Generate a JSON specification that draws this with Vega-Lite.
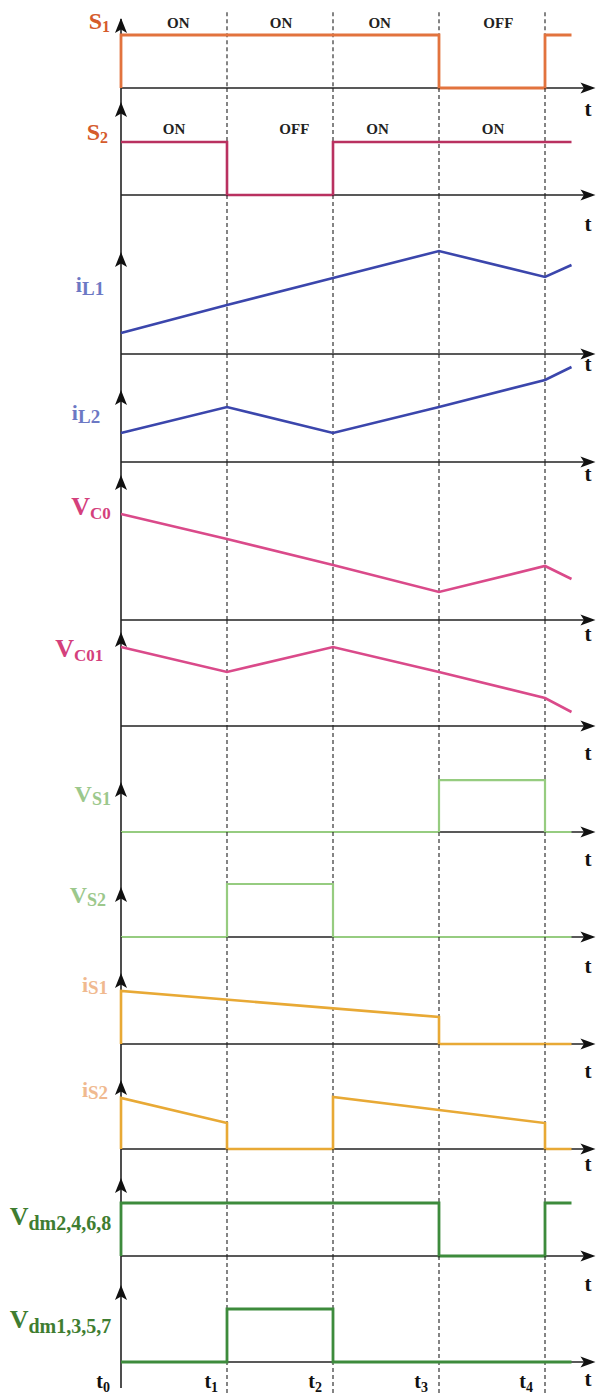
{
"$schema":"https://vega.github.io/schema/vega-lite/v6.json",
"padding":0,
"spacing":0,
"bounds":"flush",
"background":"white",
"config":{"view":{"stroke":null},"font":"Liberation Serif"},
"datasets":{
"sig":[
{"p":"S1","k":1,"t":0,"v":0},{"p":"S1","k":2,"t":0,"v":1},{"p":"S1","k":3,"t":3,"v":1},{"p":"S1","k":4,"t":3,"v":0},{"p":"S1","k":5,"t":4,"v":0},{"p":"S1","k":6,"t":4,"v":1},{"p":"S1","k":7,"t":4.25,"v":1},
{"p":"S2","k":1,"t":0,"v":1},{"p":"S2","k":2,"t":1,"v":1},{"p":"S2","k":3,"t":1,"v":0},{"p":"S2","k":4,"t":2,"v":0},{"p":"S2","k":5,"t":2,"v":1},{"p":"S2","k":6,"t":4.25,"v":1},
{"p":"iL1","k":1,"t":0,"v":0.396},{"p":"iL1","k":2,"t":1,"v":0.925},{"p":"iL1","k":3,"t":2,"v":1.434},{"p":"iL1","k":4,"t":3,"v":1.943},{"p":"iL1","k":5,"t":4,"v":1.453},{"p":"iL1","k":6,"t":4.25,"v":1.679},
{"p":"iL2","k":1,"t":0,"v":0.547},{"p":"iL2","k":2,"t":1,"v":1.038},{"p":"iL2","k":3,"t":2,"v":0.547},{"p":"iL2","k":4,"t":3,"v":1.038},{"p":"iL2","k":5,"t":4,"v":1.547},{"p":"iL2","k":6,"t":4.25,"v":1.792},
{"p":"VC0","k":1,"t":0,"v":2.0},{"p":"VC0","k":2,"t":1,"v":1.528},{"p":"VC0","k":3,"t":2,"v":1.038},{"p":"VC0","k":4,"t":3,"v":0.528},{"p":"VC0","k":5,"t":4,"v":1.019},{"p":"VC0","k":6,"t":4.25,"v":0.774},
{"p":"VC01","k":1,"t":0,"v":1.49},{"p":"VC01","k":2,"t":1,"v":1.019},{"p":"VC01","k":3,"t":2,"v":1.49},{"p":"VC01","k":4,"t":3,"v":1.019},{"p":"VC01","k":5,"t":4,"v":0.528},{"p":"VC01","k":6,"t":4.25,"v":0.264},
{"p":"VS1","k":1,"t":0,"v":0},{"p":"VS1","k":2,"t":3,"v":0},{"p":"VS1","k":3,"t":3,"v":0.98},{"p":"VS1","k":4,"t":4,"v":0.98},{"p":"VS1","k":5,"t":4,"v":0},{"p":"VS1","k":6,"t":4.25,"v":0},
{"p":"VS2","k":1,"t":0,"v":0},{"p":"VS2","k":2,"t":1,"v":0},{"p":"VS2","k":3,"t":1,"v":1},{"p":"VS2","k":4,"t":2,"v":1},{"p":"VS2","k":5,"t":2,"v":0},{"p":"VS2","k":6,"t":4.25,"v":0},
{"p":"iS1","k":1,"t":0,"v":0},{"p":"iS1","k":2,"t":0,"v":1.0},{"p":"iS1","k":3,"t":3,"v":0.509},{"p":"iS1","k":4,"t":3,"v":0},{"p":"iS1","k":5,"t":4.25,"v":0},
{"p":"iS2","k":1,"t":0,"v":0},{"p":"iS2","k":2,"t":0,"v":0.962},{"p":"iS2","k":3,"t":1,"v":0.49},{"p":"iS2","k":4,"t":1,"v":0},{"p":"iS2","k":5,"t":2,"v":0},{"p":"iS2","k":6,"t":2,"v":0.98},{"p":"iS2","k":7,"t":3,"v":0.736},{"p":"iS2","k":8,"t":4,"v":0.49},{"p":"iS2","k":9,"t":4,"v":0},{"p":"iS2","k":10,"t":4.25,"v":0},
{"p":"Vd2","k":1,"t":0,"v":0},{"p":"Vd2","k":2,"t":0,"v":1},{"p":"Vd2","k":3,"t":3,"v":1},{"p":"Vd2","k":4,"t":3,"v":0},{"p":"Vd2","k":5,"t":4,"v":0},{"p":"Vd2","k":6,"t":4,"v":1},{"p":"Vd2","k":7,"t":4.25,"v":1},
{"p":"Vd1","k":1,"t":0,"v":0},{"p":"Vd1","k":2,"t":1,"v":0},{"p":"Vd1","k":3,"t":1,"v":1},{"p":"Vd1","k":4,"t":2,"v":1},{"p":"Vd1","k":5,"t":2,"v":0},{"p":"Vd1","k":6,"t":4.25,"v":0}
],
"lab":[
{"p":"S1","t":-0.179,"v":1.113,"m":"S","s":"1"},
{"p":"S2","t":-0.198,"v":1.038,"m":"S","s":"2"},
{"p":"iL1","t":-0.368,"v":1.17,"m":"i","s":"L1"},
{"p":"iL2","t":-0.406,"v":0.792,"m":"i","s":"L2"},
{"p":"VC0","t":-0.292,"v":1.981,"m":"V","s":"C0"},
{"p":"VC01","t":-0.443,"v":1.302,"m":"V","s":"C01"},
{"p":"VS1","t":-0.274,"v":0.566,"m":"V","s":"S1"},
{"p":"VS2","t":-0.321,"v":0.642,"m":"V","s":"S2"},
{"p":"iS1","t":-0.311,"v":0.981,"m":"i","s":"S1"},
{"p":"iS2","t":-0.311,"v":0.981,"m":"i","s":"S2"},
{"p":"Vd2","t":-0.873,"v":0.585,"m":"V","s":"dm2,4,6,8"},
{"p":"Vd1","t":-0.873,"v":0.642,"m":"V","s":"dm1,3,5,7"}
],
"tl":[
{"p":"S1","t":4.406,"v":-0.415,"s":"t"},
{"p":"S2","t":4.406,"v":-0.566,"s":"t"},
{"p":"iL1","t":4.406,"v":-0.208,"s":"t"},
{"p":"iL2","t":4.406,"v":-0.245,"s":"t"},
{"p":"VC0","t":4.406,"v":-0.283,"s":"t"},
{"p":"VC01","t":4.406,"v":-0.528,"s":"t"},
{"p":"VS1","t":4.406,"v":-0.528,"s":"t"},
{"p":"VS2","t":4.406,"v":-0.566,"s":"t"},
{"p":"iS1","t":4.406,"v":-0.528,"s":"t"},
{"p":"iS2","t":4.406,"v":-0.302,"s":"t"},
{"p":"Vd2","t":4.406,"v":-0.547,"s":"t"},
{"p":"Vd1","t":4.406,"v":-0.34,"s":"t"}
],
"oo":[
{"p":"S1","t":0.54,"v":1.226,"txt":"ON"},{"p":"S1","t":1.51,"v":1.226,"txt":"ON"},{"p":"S1","t":2.44,"v":1.226,"txt":"ON"},{"p":"S1","t":3.56,"v":1.226,"txt":"OFF"},
{"p":"S2","t":0.5,"v":1.245,"txt":"ON"},{"p":"S2","t":1.635,"v":1.245,"txt":"OFF"},{"p":"S2","t":2.42,"v":1.245,"txt":"ON"},{"p":"S2","t":3.51,"v":1.245,"txt":"ON"}
],
"tk":[
{"t":-0.17,"v":-0.49,"m":"t","s":"0"},{"t":0.85,"v":-0.49,"m":"t","s":"1"},{"t":1.83,"v":-0.49,"m":"t","s":"2"},{"t":2.83,"v":-0.49,"m":"t","s":"3"},{"t":3.82,"v":-0.49,"m":"t","s":"4"}
]
},
"vconcat":[
{"width":596,"height":88,
"encoding":{"x":{"field":"t","type":"quantitative","axis":null,"scale":{"domain":[-1.1415,4.4811],"nice":false,"zero":false}},"y":{"field":"v","type":"quantitative","axis":null,"scale":{"domain":[0,1.6604],"nice":false,"zero":false}}},
"layer":[
{"data":{"values":[{"t":1,"v":1.43,"v2":0},{"t":2,"v":1.43,"v2":0},{"t":3,"v":1.43,"v2":0},{"t":4,"v":1.43,"v2":0}]},"mark":{"type":"rule","color":"#222","strokeWidth":1.1,"strokeDash":[4,3]},"encoding":{"y2":{"field":"v2"}}},
{"data":{"values":[{"t":0,"v":1.3,"v2":0}]},"mark":{"type":"rule","color":"#222","strokeWidth":1.6},"encoding":{"y2":{"field":"v2"}}},
{"data":{"values":[{"t":0,"v":0,"t2":4.45}]},"mark":{"type":"rule","color":"#222","strokeWidth":1.6},"encoding":{"x2":{"field":"t2"}}},
{"data":{"name":"sig"},"transform":[{"filter":"datum.p=='S1'"}],"mark":{"type":"line","color":"#E2733E","strokeWidth":2.8},"encoding":{"order":{"field":"k"}}},
{"data":{"values":[{"t":0,"v":1.321}]},"mark":{"type":"point","shape":"M 0 0 L 1.2 3 L 0 2.3 L -1.2 3 Z","filled":true,"opacity":1,"size":100,"color":"#111","strokeWidth":0}},
{"data":{"values":[{"t":4.476,"v":0}]},"mark":{"type":"point","shape":"M 0 0 L -3 -1.1 L -2.3 0 L -3 1.1 Z","filled":true,"opacity":1,"size":100,"color":"#111","strokeWidth":0}},
{"data":{"name":"lab"},"transform":[{"filter":"datum.p=='S1'"}],"mark":{"type":"text","align":"right","baseline":"alphabetic","fontWeight":"bold","fontSize":24,"color":"#D55B2B"},"encoding":{"text":{"field":"m"}}},
{"data":{"name":"lab"},"transform":[{"filter":"datum.p=='S1'"}],"mark":{"type":"text","align":"left","baseline":"alphabetic","dy":3,"fontWeight":"bold","fontSize":16,"color":"#D55B2B"},"encoding":{"text":{"field":"s"}}},
{"data":{"name":"oo"},"transform":[{"filter":"datum.p=='S1'"}],"mark":{"type":"text","align":"center","baseline":"middle","fontWeight":"bold","fontSize":15,"color":"#222"},"encoding":{"text":{"field":"txt"}}},
{"data":{"name":"tl"},"transform":[{"filter":"datum.p=='S1'"}],"mark":{"type":"text","align":"center","baseline":"middle","fontWeight":"bold","fontSize":21,"color":"#111"},"encoding":{"text":{"field":"s"}}}
]},
{"width":596,"height":107,
"encoding":{"x":{"field":"t","type":"quantitative","axis":null,"scale":{"domain":[-1.1415,4.4811],"nice":false,"zero":false}},"y":{"field":"v","type":"quantitative","axis":null,"scale":{"domain":[0,2.0189],"nice":false,"zero":false}}},
"layer":[
{"data":{"values":[{"t":1,"v":2.0189,"v2":0},{"t":2,"v":2.0189,"v2":0},{"t":3,"v":2.0189,"v2":0},{"t":4,"v":2.0189,"v2":0}]},"mark":{"type":"rule","color":"#222","strokeWidth":1.1,"strokeDash":[4,3]},"encoding":{"y2":{"field":"v2"}}},
{"data":{"values":[{"t":0,"v":2.0189,"v2":0}]},"mark":{"type":"rule","color":"#222","strokeWidth":1.6},"encoding":{"y2":{"field":"v2"}}},
{"data":{"values":[{"t":0,"v":0,"t2":4.45}]},"mark":{"type":"rule","color":"#222","strokeWidth":1.6},"encoding":{"x2":{"field":"t2"}}},
{"data":{"name":"sig"},"transform":[{"filter":"datum.p=='S2'"}],"mark":{"type":"line","color":"#B93160","strokeWidth":2.6},"encoding":{"order":{"field":"k"}}},
{"data":{"values":[{"t":0,"v":1.755}]},"mark":{"type":"point","shape":"M 0 0 L 1.2 3 L 0 2.3 L -1.2 3 Z","filled":true,"opacity":1,"size":100,"color":"#111","strokeWidth":0}},
{"data":{"values":[{"t":4.476,"v":0}]},"mark":{"type":"point","shape":"M 0 0 L -3 -1.1 L -2.3 0 L -3 1.1 Z","filled":true,"opacity":1,"size":100,"color":"#111","strokeWidth":0}},
{"data":{"name":"lab"},"transform":[{"filter":"datum.p=='S2'"}],"mark":{"type":"text","align":"right","baseline":"alphabetic","fontWeight":"bold","fontSize":24,"color":"#D55B2B"},"encoding":{"text":{"field":"m"}}},
{"data":{"name":"lab"},"transform":[{"filter":"datum.p=='S2'"}],"mark":{"type":"text","align":"left","baseline":"alphabetic","dy":3,"fontWeight":"bold","fontSize":16,"color":"#D55B2B"},"encoding":{"text":{"field":"s"}}},
{"data":{"name":"oo"},"transform":[{"filter":"datum.p=='S2'"}],"mark":{"type":"text","align":"center","baseline":"middle","fontWeight":"bold","fontSize":15,"color":"#222"},"encoding":{"text":{"field":"txt"}}},
{"data":{"name":"tl"},"transform":[{"filter":"datum.p=='S2'"}],"mark":{"type":"text","align":"center","baseline":"middle","fontWeight":"bold","fontSize":21,"color":"#111"},"encoding":{"text":{"field":"s"}}}
]},
{"width":596,"height":159,
"encoding":{"x":{"field":"t","type":"quantitative","axis":null,"scale":{"domain":[-1.1415,4.4811],"nice":false,"zero":false}},"y":{"field":"v","type":"quantitative","axis":null,"scale":{"domain":[0,3.0],"nice":false,"zero":false}}},
"layer":[
{"data":{"values":[{"t":1,"v":3.0,"v2":0},{"t":2,"v":3.0,"v2":0},{"t":3,"v":3.0,"v2":0},{"t":4,"v":3.0,"v2":0}]},"mark":{"type":"rule","color":"#222","strokeWidth":1.1,"strokeDash":[4,3]},"encoding":{"y2":{"field":"v2"}}},
{"data":{"values":[{"t":0,"v":3.0,"v2":0}]},"mark":{"type":"rule","color":"#222","strokeWidth":1.6},"encoding":{"y2":{"field":"v2"}}},
{"data":{"values":[{"t":0,"v":0,"t2":4.45}]},"mark":{"type":"rule","color":"#222","strokeWidth":1.6},"encoding":{"x2":{"field":"t2"}}},
{"data":{"name":"sig"},"transform":[{"filter":"datum.p=='iL1'"}],"mark":{"type":"line","color":"#3B46AC","strokeWidth":2.6},"encoding":{"order":{"field":"k"}}},
{"data":{"values":[{"t":0,"v":1.925}]},"mark":{"type":"point","shape":"M 0 0 L 1.2 3 L 0 2.3 L -1.2 3 Z","filled":true,"opacity":1,"size":100,"color":"#111","strokeWidth":0}},
{"data":{"values":[{"t":4.476,"v":0}]},"mark":{"type":"point","shape":"M 0 0 L -3 -1.1 L -2.3 0 L -3 1.1 Z","filled":true,"opacity":1,"size":100,"color":"#111","strokeWidth":0}},
{"data":{"name":"lab"},"transform":[{"filter":"datum.p=='iL1'"}],"mark":{"type":"text","align":"right","baseline":"alphabetic","fontWeight":"bold","fontSize":22,"color":"#6C78C4"},"encoding":{"text":{"field":"m"}}},
{"data":{"name":"lab"},"transform":[{"filter":"datum.p=='iL1'"}],"mark":{"type":"text","align":"left","baseline":"alphabetic","dy":3,"fontWeight":"bold","fontSize":19,"color":"#6C78C4"},"encoding":{"text":{"field":"s"}}},
{"data":{"name":"tl"},"transform":[{"filter":"datum.p=='iL1'"}],"mark":{"type":"text","align":"center","baseline":"middle","fontWeight":"bold","fontSize":21,"color":"#111"},"encoding":{"text":{"field":"s"}}}
]},
{"width":596,"height":108,
"encoding":{"x":{"field":"t","type":"quantitative","axis":null,"scale":{"domain":[-1.1415,4.4811],"nice":false,"zero":false}},"y":{"field":"v","type":"quantitative","axis":null,"scale":{"domain":[0,2.0377],"nice":false,"zero":false}}},
"layer":[
{"data":{"values":[{"t":1,"v":2.0377,"v2":0},{"t":2,"v":2.0377,"v2":0},{"t":3,"v":2.0377,"v2":0},{"t":4,"v":2.0377,"v2":0}]},"mark":{"type":"rule","color":"#222","strokeWidth":1.1,"strokeDash":[4,3]},"encoding":{"y2":{"field":"v2"}}},
{"data":{"values":[{"t":0,"v":2.0377,"v2":0}]},"mark":{"type":"rule","color":"#222","strokeWidth":1.6},"encoding":{"y2":{"field":"v2"}}},
{"data":{"values":[{"t":0,"v":0,"t2":4.45}]},"mark":{"type":"rule","color":"#222","strokeWidth":1.6},"encoding":{"x2":{"field":"t2"}}},
{"data":{"name":"sig"},"transform":[{"filter":"datum.p=='iL2'"}],"mark":{"type":"line","color":"#3B46AC","strokeWidth":2.6},"encoding":{"order":{"field":"k"}}},
{"data":{"values":[{"t":0,"v":1.358}]},"mark":{"type":"point","shape":"M 0 0 L 1.2 3 L 0 2.3 L -1.2 3 Z","filled":true,"opacity":1,"size":100,"color":"#111","strokeWidth":0}},
{"data":{"values":[{"t":4.476,"v":0}]},"mark":{"type":"point","shape":"M 0 0 L -3 -1.1 L -2.3 0 L -3 1.1 Z","filled":true,"opacity":1,"size":100,"color":"#111","strokeWidth":0}},
{"data":{"name":"lab"},"transform":[{"filter":"datum.p=='iL2'"}],"mark":{"type":"text","align":"right","baseline":"alphabetic","fontWeight":"bold","fontSize":22,"color":"#6C78C4"},"encoding":{"text":{"field":"m"}}},
{"data":{"name":"lab"},"transform":[{"filter":"datum.p=='iL2'"}],"mark":{"type":"text","align":"left","baseline":"alphabetic","dy":3,"fontWeight":"bold","fontSize":19,"color":"#6C78C4"},"encoding":{"text":{"field":"s"}}},
{"data":{"name":"tl"},"transform":[{"filter":"datum.p=='iL2'"}],"mark":{"type":"text","align":"center","baseline":"middle","fontWeight":"bold","fontSize":21,"color":"#111"},"encoding":{"text":{"field":"s"}}}
]},
{"width":596,"height":158,
"encoding":{"x":{"field":"t","type":"quantitative","axis":null,"scale":{"domain":[-1.1415,4.4811],"nice":false,"zero":false}},"y":{"field":"v","type":"quantitative","axis":null,"scale":{"domain":[0,2.9811],"nice":false,"zero":false}}},
"layer":[
{"data":{"values":[{"t":1,"v":2.9811,"v2":0},{"t":2,"v":2.9811,"v2":0},{"t":3,"v":2.9811,"v2":0},{"t":4,"v":2.9811,"v2":0}]},"mark":{"type":"rule","color":"#222","strokeWidth":1.1,"strokeDash":[4,3]},"encoding":{"y2":{"field":"v2"}}},
{"data":{"values":[{"t":0,"v":2.9811,"v2":0}]},"mark":{"type":"rule","color":"#222","strokeWidth":1.6},"encoding":{"y2":{"field":"v2"}}},
{"data":{"values":[{"t":0,"v":0,"t2":4.45}]},"mark":{"type":"rule","color":"#222","strokeWidth":1.6},"encoding":{"x2":{"field":"t2"}}},
{"data":{"name":"sig"},"transform":[{"filter":"datum.p=='VC0'"}],"mark":{"type":"line","color":"#DA4A8A","strokeWidth":2.6},"encoding":{"order":{"field":"k"}}},
{"data":{"values":[{"t":0,"v":2.736}]},"mark":{"type":"point","shape":"M 0 0 L 1.2 3 L 0 2.3 L -1.2 3 Z","filled":true,"opacity":1,"size":100,"color":"#111","strokeWidth":0}},
{"data":{"values":[{"t":4.476,"v":0}]},"mark":{"type":"point","shape":"M 0 0 L -3 -1.1 L -2.3 0 L -3 1.1 Z","filled":true,"opacity":1,"size":100,"color":"#111","strokeWidth":0}},
{"data":{"name":"lab"},"transform":[{"filter":"datum.p=='VC0'"}],"mark":{"type":"text","align":"right","baseline":"alphabetic","fontWeight":"bold","fontSize":26,"color":"#D4407C"},"encoding":{"text":{"field":"m"}}},
{"data":{"name":"lab"},"transform":[{"filter":"datum.p=='VC0'"}],"mark":{"type":"text","align":"left","baseline":"alphabetic","dy":4,"fontWeight":"bold","fontSize":17,"color":"#D4407C"},"encoding":{"text":{"field":"s"}}},
{"data":{"name":"tl"},"transform":[{"filter":"datum.p=='VC0'"}],"mark":{"type":"text","align":"center","baseline":"middle","fontWeight":"bold","fontSize":21,"color":"#111"},"encoding":{"text":{"field":"s"}}}
]},
{"width":596,"height":106,
"encoding":{"x":{"field":"t","type":"quantitative","axis":null,"scale":{"domain":[-1.1415,4.4811],"nice":false,"zero":false}},"y":{"field":"v","type":"quantitative","axis":null,"scale":{"domain":[0,2.0],"nice":false,"zero":false}}},
"layer":[
{"data":{"values":[{"t":1,"v":2.0,"v2":0},{"t":2,"v":2.0,"v2":0},{"t":3,"v":2.0,"v2":0},{"t":4,"v":2.0,"v2":0}]},"mark":{"type":"rule","color":"#222","strokeWidth":1.1,"strokeDash":[4,3]},"encoding":{"y2":{"field":"v2"}}},
{"data":{"values":[{"t":0,"v":2.0,"v2":0}]},"mark":{"type":"rule","color":"#222","strokeWidth":1.6},"encoding":{"y2":{"field":"v2"}}},
{"data":{"values":[{"t":0,"v":0,"t2":4.45}]},"mark":{"type":"rule","color":"#222","strokeWidth":1.6},"encoding":{"x2":{"field":"t2"}}},
{"data":{"name":"sig"},"transform":[{"filter":"datum.p=='VC01'"}],"mark":{"type":"line","color":"#DA4A8A","strokeWidth":2.6},"encoding":{"order":{"field":"k"}}},
{"data":{"values":[{"t":0,"v":1.774}]},"mark":{"type":"point","shape":"M 0 0 L 1.2 3 L 0 2.3 L -1.2 3 Z","filled":true,"opacity":1,"size":100,"color":"#111","strokeWidth":0}},
{"data":{"values":[{"t":4.476,"v":0}]},"mark":{"type":"point","shape":"M 0 0 L -3 -1.1 L -2.3 0 L -3 1.1 Z","filled":true,"opacity":1,"size":100,"color":"#111","strokeWidth":0}},
{"data":{"name":"lab"},"transform":[{"filter":"datum.p=='VC01'"}],"mark":{"type":"text","align":"right","baseline":"alphabetic","fontWeight":"bold","fontSize":26,"color":"#D4407C"},"encoding":{"text":{"field":"m"}}},
{"data":{"name":"lab"},"transform":[{"filter":"datum.p=='VC01'"}],"mark":{"type":"text","align":"left","baseline":"alphabetic","dy":4,"fontWeight":"bold","fontSize":17,"color":"#D4407C"},"encoding":{"text":{"field":"s"}}},
{"data":{"name":"tl"},"transform":[{"filter":"datum.p=='VC01'"}],"mark":{"type":"text","align":"center","baseline":"middle","fontWeight":"bold","fontSize":21,"color":"#111"},"encoding":{"text":{"field":"s"}}}
]},
{"width":596,"height":106,
"encoding":{"x":{"field":"t","type":"quantitative","axis":null,"scale":{"domain":[-1.1415,4.4811],"nice":false,"zero":false}},"y":{"field":"v","type":"quantitative","axis":null,"scale":{"domain":[0,2.0],"nice":false,"zero":false}}},
"layer":[
{"data":{"values":[{"t":1,"v":2.0,"v2":0},{"t":2,"v":2.0,"v2":0},{"t":3,"v":2.0,"v2":0},{"t":4,"v":2.0,"v2":0}]},"mark":{"type":"rule","color":"#222","strokeWidth":1.1,"strokeDash":[4,3]},"encoding":{"y2":{"field":"v2"}}},
{"data":{"values":[{"t":0,"v":2.0,"v2":0}]},"mark":{"type":"rule","color":"#222","strokeWidth":1.6},"encoding":{"y2":{"field":"v2"}}},
{"data":{"values":[{"t":0,"v":0,"t2":4.45}]},"mark":{"type":"rule","color":"#222","strokeWidth":1.6},"encoding":{"x2":{"field":"t2"}}},
{"data":{"name":"sig"},"transform":[{"filter":"datum.p=='VS1'"}],"mark":{"type":"line","color":"#96CC80","strokeWidth":2.2},"encoding":{"order":{"field":"k"}}},
{"data":{"values":[{"t":0,"v":0.943}]},"mark":{"type":"point","shape":"M 0 0 L 1.2 3 L 0 2.3 L -1.2 3 Z","filled":true,"opacity":1,"size":100,"color":"#111","strokeWidth":0}},
{"data":{"values":[{"t":4.476,"v":0}]},"mark":{"type":"point","shape":"M 0 0 L -3 -1.1 L -2.3 0 L -3 1.1 Z","filled":true,"opacity":1,"size":100,"color":"#111","strokeWidth":0}},
{"data":{"name":"lab"},"transform":[{"filter":"datum.p=='VS1'"}],"mark":{"type":"text","align":"right","baseline":"alphabetic","fontWeight":"bold","fontSize":24,"color":"#9CC88C"},"encoding":{"text":{"field":"m"}}},
{"data":{"name":"lab"},"transform":[{"filter":"datum.p=='VS1'"}],"mark":{"type":"text","align":"left","baseline":"alphabetic","dy":3,"fontWeight":"bold","fontSize":18,"color":"#9CC88C"},"encoding":{"text":{"field":"s"}}},
{"data":{"name":"tl"},"transform":[{"filter":"datum.p=='VS1'"}],"mark":{"type":"text","align":"center","baseline":"middle","fontWeight":"bold","fontSize":21,"color":"#111"},"encoding":{"text":{"field":"s"}}}
]},
{"width":596,"height":105,
"encoding":{"x":{"field":"t","type":"quantitative","axis":null,"scale":{"domain":[-1.1415,4.4811],"nice":false,"zero":false}},"y":{"field":"v","type":"quantitative","axis":null,"scale":{"domain":[0,1.9811],"nice":false,"zero":false}}},
"layer":[
{"data":{"values":[{"t":1,"v":1.9811,"v2":0},{"t":2,"v":1.9811,"v2":0},{"t":3,"v":1.9811,"v2":0},{"t":4,"v":1.9811,"v2":0}]},"mark":{"type":"rule","color":"#222","strokeWidth":1.1,"strokeDash":[4,3]},"encoding":{"y2":{"field":"v2"}}},
{"data":{"values":[{"t":0,"v":1.9811,"v2":0}]},"mark":{"type":"rule","color":"#222","strokeWidth":1.6},"encoding":{"y2":{"field":"v2"}}},
{"data":{"values":[{"t":0,"v":0,"t2":4.45}]},"mark":{"type":"rule","color":"#222","strokeWidth":1.6},"encoding":{"x2":{"field":"t2"}}},
{"data":{"name":"sig"},"transform":[{"filter":"datum.p=='VS2'"}],"mark":{"type":"line","color":"#96CC80","strokeWidth":2.2},"encoding":{"order":{"field":"k"}}},
{"data":{"values":[{"t":0,"v":0.943}]},"mark":{"type":"point","shape":"M 0 0 L 1.2 3 L 0 2.3 L -1.2 3 Z","filled":true,"opacity":1,"size":100,"color":"#111","strokeWidth":0}},
{"data":{"values":[{"t":4.476,"v":0}]},"mark":{"type":"point","shape":"M 0 0 L -3 -1.1 L -2.3 0 L -3 1.1 Z","filled":true,"opacity":1,"size":100,"color":"#111","strokeWidth":0}},
{"data":{"name":"lab"},"transform":[{"filter":"datum.p=='VS2'"}],"mark":{"type":"text","align":"right","baseline":"alphabetic","fontWeight":"bold","fontSize":24,"color":"#9CC88C"},"encoding":{"text":{"field":"m"}}},
{"data":{"name":"lab"},"transform":[{"filter":"datum.p=='VS2'"}],"mark":{"type":"text","align":"left","baseline":"alphabetic","dy":3,"fontWeight":"bold","fontSize":18,"color":"#9CC88C"},"encoding":{"text":{"field":"s"}}},
{"data":{"name":"tl"},"transform":[{"filter":"datum.p=='VS2'"}],"mark":{"type":"text","align":"center","baseline":"middle","fontWeight":"bold","fontSize":21,"color":"#111"},"encoding":{"text":{"field":"s"}}}
]},
{"width":596,"height":107,
"encoding":{"x":{"field":"t","type":"quantitative","axis":null,"scale":{"domain":[-1.1415,4.4811],"nice":false,"zero":false}},"y":{"field":"v","type":"quantitative","axis":null,"scale":{"domain":[0,2.0189],"nice":false,"zero":false}}},
"layer":[
{"data":{"values":[{"t":1,"v":2.0189,"v2":0},{"t":2,"v":2.0189,"v2":0},{"t":3,"v":2.0189,"v2":0},{"t":4,"v":2.0189,"v2":0}]},"mark":{"type":"rule","color":"#222","strokeWidth":1.1,"strokeDash":[4,3]},"encoding":{"y2":{"field":"v2"}}},
{"data":{"values":[{"t":0,"v":2.0189,"v2":0}]},"mark":{"type":"rule","color":"#222","strokeWidth":1.6},"encoding":{"y2":{"field":"v2"}}},
{"data":{"values":[{"t":0,"v":0,"t2":4.45}]},"mark":{"type":"rule","color":"#222","strokeWidth":1.6},"encoding":{"x2":{"field":"t2"}}},
{"data":{"name":"sig"},"transform":[{"filter":"datum.p=='iS1'"}],"mark":{"type":"line","color":"#E8A935","strokeWidth":2.6},"encoding":{"order":{"field":"k"}}},
{"data":{"values":[{"t":0,"v":1.34}]},"mark":{"type":"point","shape":"M 0 0 L 1.2 3 L 0 2.3 L -1.2 3 Z","filled":true,"opacity":1,"size":100,"color":"#111","strokeWidth":0}},
{"data":{"values":[{"t":4.476,"v":0}]},"mark":{"type":"point","shape":"M 0 0 L -3 -1.1 L -2.3 0 L -3 1.1 Z","filled":true,"opacity":1,"size":100,"color":"#111","strokeWidth":0}},
{"data":{"name":"lab"},"transform":[{"filter":"datum.p=='iS1'"}],"mark":{"type":"text","align":"right","baseline":"alphabetic","fontWeight":"bold","fontSize":22,"color":"#F0B98F"},"encoding":{"text":{"field":"m"}}},
{"data":{"name":"lab"},"transform":[{"filter":"datum.p=='iS1'"}],"mark":{"type":"text","align":"left","baseline":"alphabetic","dy":2,"fontWeight":"bold","fontSize":19,"color":"#F0B98F"},"encoding":{"text":{"field":"s"}}},
{"data":{"name":"tl"},"transform":[{"filter":"datum.p=='iS1'"}],"mark":{"type":"text","align":"center","baseline":"middle","fontWeight":"bold","fontSize":21,"color":"#111"},"encoding":{"text":{"field":"s"}}}
]},
{"width":596,"height":105,
"encoding":{"x":{"field":"t","type":"quantitative","axis":null,"scale":{"domain":[-1.1415,4.4811],"nice":false,"zero":false}},"y":{"field":"v","type":"quantitative","axis":null,"scale":{"domain":[0,1.9811],"nice":false,"zero":false}}},
"layer":[
{"data":{"values":[{"t":1,"v":1.9811,"v2":0},{"t":2,"v":1.9811,"v2":0},{"t":3,"v":1.9811,"v2":0},{"t":4,"v":1.9811,"v2":0}]},"mark":{"type":"rule","color":"#222","strokeWidth":1.1,"strokeDash":[4,3]},"encoding":{"y2":{"field":"v2"}}},
{"data":{"values":[{"t":0,"v":1.9811,"v2":0}]},"mark":{"type":"rule","color":"#222","strokeWidth":1.6},"encoding":{"y2":{"field":"v2"}}},
{"data":{"values":[{"t":0,"v":0,"t2":4.45}]},"mark":{"type":"rule","color":"#222","strokeWidth":1.6},"encoding":{"x2":{"field":"t2"}}},
{"data":{"name":"sig"},"transform":[{"filter":"datum.p=='iS2'"}],"mark":{"type":"line","color":"#E8A935","strokeWidth":2.6},"encoding":{"order":{"field":"k"}}},
{"data":{"values":[{"t":0,"v":1.302}]},"mark":{"type":"point","shape":"M 0 0 L 1.2 3 L 0 2.3 L -1.2 3 Z","filled":true,"opacity":1,"size":100,"color":"#111","strokeWidth":0}},
{"data":{"values":[{"t":4.476,"v":0}]},"mark":{"type":"point","shape":"M 0 0 L -3 -1.1 L -2.3 0 L -3 1.1 Z","filled":true,"opacity":1,"size":100,"color":"#111","strokeWidth":0}},
{"data":{"name":"lab"},"transform":[{"filter":"datum.p=='iS2'"}],"mark":{"type":"text","align":"right","baseline":"alphabetic","fontWeight":"bold","fontSize":22,"color":"#F0B98F"},"encoding":{"text":{"field":"m"}}},
{"data":{"name":"lab"},"transform":[{"filter":"datum.p=='iS2'"}],"mark":{"type":"text","align":"left","baseline":"alphabetic","dy":2,"fontWeight":"bold","fontSize":19,"color":"#F0B98F"},"encoding":{"text":{"field":"s"}}},
{"data":{"name":"tl"},"transform":[{"filter":"datum.p=='iS2'"}],"mark":{"type":"text","align":"center","baseline":"middle","fontWeight":"bold","fontSize":21,"color":"#111"},"encoding":{"text":{"field":"s"}}}
]},
{"width":596,"height":107,
"encoding":{"x":{"field":"t","type":"quantitative","axis":null,"scale":{"domain":[-1.1415,4.4811],"nice":false,"zero":false}},"y":{"field":"v","type":"quantitative","axis":null,"scale":{"domain":[0,2.0189],"nice":false,"zero":false}}},
"layer":[
{"data":{"values":[{"t":1,"v":2.0189,"v2":0},{"t":2,"v":2.0189,"v2":0},{"t":3,"v":2.0189,"v2":0},{"t":4,"v":2.0189,"v2":0}]},"mark":{"type":"rule","color":"#222","strokeWidth":1.1,"strokeDash":[4,3]},"encoding":{"y2":{"field":"v2"}}},
{"data":{"values":[{"t":0,"v":2.0189,"v2":0}]},"mark":{"type":"rule","color":"#222","strokeWidth":1.6},"encoding":{"y2":{"field":"v2"}}},
{"data":{"values":[{"t":0,"v":0,"t2":4.45}]},"mark":{"type":"rule","color":"#222","strokeWidth":1.6},"encoding":{"x2":{"field":"t2"}}},
{"data":{"name":"sig"},"transform":[{"filter":"datum.p=='Vd2'"}],"mark":{"type":"line","color":"#3D8B3C","strokeWidth":2.8},"encoding":{"order":{"field":"k"}}},
{"data":{"values":[{"t":0,"v":1.47}]},"mark":{"type":"point","shape":"M 0 0 L 1.2 3 L 0 2.3 L -1.2 3 Z","filled":true,"opacity":1,"size":100,"color":"#111","strokeWidth":0}},
{"data":{"values":[{"t":4.476,"v":0}]},"mark":{"type":"point","shape":"M 0 0 L -3 -1.1 L -2.3 0 L -3 1.1 Z","filled":true,"opacity":1,"size":100,"color":"#111","strokeWidth":0}},
{"data":{"name":"lab"},"transform":[{"filter":"datum.p=='Vd2'"}],"mark":{"type":"text","align":"right","baseline":"alphabetic","fontWeight":"bold","fontSize":26,"color":"#3F7D31"},"encoding":{"text":{"field":"m"}}},
{"data":{"name":"lab"},"transform":[{"filter":"datum.p=='Vd2'"}],"mark":{"type":"text","align":"left","baseline":"alphabetic","dy":5,"fontWeight":"bold","fontSize":20,"color":"#3F7D31"},"encoding":{"text":{"field":"s"}}},
{"data":{"name":"tl"},"transform":[{"filter":"datum.p=='Vd2'"}],"mark":{"type":"text","align":"center","baseline":"middle","fontWeight":"bold","fontSize":21,"color":"#111"},"encoding":{"text":{"field":"s"}}}
]},
{"width":596,"height":139,
"encoding":{"x":{"field":"t","type":"quantitative","axis":null,"scale":{"domain":[-1.1415,4.4811],"nice":false,"zero":false}},"y":{"field":"v","type":"quantitative","axis":null,"scale":{"domain":[-0.6226,2.0],"nice":false,"zero":false}}},
"layer":[
{"data":{"values":[{"t":1,"v":2.0,"v2":-0.6226},{"t":2,"v":2.0,"v2":-0.6226},{"t":3,"v":2.0,"v2":-0.6226},{"t":4,"v":2.0,"v2":-0.6226}]},"mark":{"type":"rule","color":"#222","strokeWidth":1.1,"strokeDash":[4,3]},"encoding":{"y2":{"field":"v2"}}},
{"data":{"values":[{"t":0,"v":2.0,"v2":-0.49}]},"mark":{"type":"rule","color":"#222","strokeWidth":1.6},"encoding":{"y2":{"field":"v2"}}},
{"data":{"values":[{"t":0,"v":0,"t2":4.45}]},"mark":{"type":"rule","color":"#222","strokeWidth":1.6},"encoding":{"x2":{"field":"t2"}}},
{"data":{"name":"sig"},"transform":[{"filter":"datum.p=='Vd1'"}],"mark":{"type":"line","color":"#3D8B3C","strokeWidth":2.8},"encoding":{"order":{"field":"k"}}},
{"data":{"values":[{"t":0,"v":1.453}]},"mark":{"type":"point","shape":"M 0 0 L 1.2 3 L 0 2.3 L -1.2 3 Z","filled":true,"opacity":1,"size":100,"color":"#111","strokeWidth":0}},
{"data":{"values":[{"t":4.476,"v":0}]},"mark":{"type":"point","shape":"M 0 0 L -3 -1.1 L -2.3 0 L -3 1.1 Z","filled":true,"opacity":1,"size":100,"color":"#111","strokeWidth":0}},
{"data":{"name":"lab"},"transform":[{"filter":"datum.p=='Vd1'"}],"mark":{"type":"text","align":"right","baseline":"alphabetic","fontWeight":"bold","fontSize":26,"color":"#3F7D31"},"encoding":{"text":{"field":"m"}}},
{"data":{"name":"lab"},"transform":[{"filter":"datum.p=='Vd1'"}],"mark":{"type":"text","align":"left","baseline":"alphabetic","dy":5,"fontWeight":"bold","fontSize":20,"color":"#3F7D31"},"encoding":{"text":{"field":"s"}}},
{"data":{"name":"tl"},"transform":[{"filter":"datum.p=='Vd1'"}],"mark":{"type":"text","align":"center","baseline":"middle","fontWeight":"bold","fontSize":21,"color":"#111"},"encoding":{"text":{"field":"s"}}},
{"data":{"name":"tk"},"mark":{"type":"text","align":"right","baseline":"alphabetic","fontWeight":"bold","fontSize":20,"color":"#111"},"encoding":{"text":{"field":"m"}}},
{"data":{"name":"tk"},"mark":{"type":"text","align":"left","baseline":"alphabetic","dy":4,"fontWeight":"bold","fontSize":14,"color":"#111"},"encoding":{"text":{"field":"s"}}}
]}
]
}
